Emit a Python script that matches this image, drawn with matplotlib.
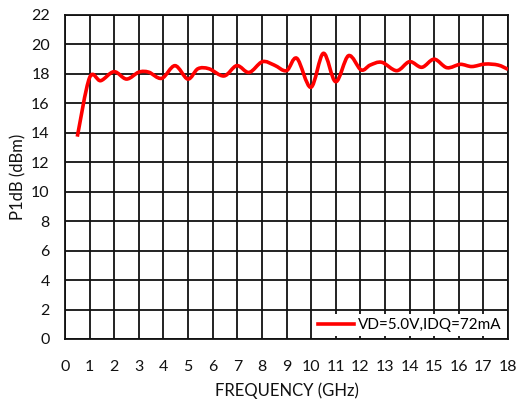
import numpy as np
import matplotlib
matplotlib.use("Agg")
import matplotlib.pyplot as plt
from matplotlib.path import Path
from matplotlib.patches import PathPatch
from matplotlib.lines import Line2D

freq = [0.5, 1.0, 1.45, 1.99, 2.5, 3.0, 3.4, 3.93, 4.47, 4.99, 5.4, 5.85, 6.46, 6.98, 7.48,
        8.02, 8.5, 9.0, 9.42, 9.99, 10.5, 11.0, 11.52, 12.03, 12.4, 12.87, 13.48, 14.0, 14.5,
        15.0, 15.52, 16.06, 16.53, 17.07, 17.6, 18.0]
p1db = [13.74, 17.75, 17.54, 18.15, 17.65, 18.12, 18.12, 17.7, 18.56, 17.65, 18.35, 18.35, 17.86, 18.56, 18.1,
        18.83, 18.6, 18.22, 19.06, 17.09, 19.4, 17.47, 19.24, 18.27, 18.6, 18.79, 18.22, 18.83, 18.45,
        19.0, 18.42, 18.65, 18.5, 18.67, 18.6, 18.31]
legend_label = "VD=5.0V,IDQ=72mA"
xticks = list(range(0, 19))
yticks = list(range(0, 23, 2))

plt.rcParams['font.family'] = ['Lato', 'DejaVu Sans']
fig = plt.figure(figsize=(5.17, 3.99), dpi=100)
ax = fig.add_axes([65/517, 1-339/399, (508-65)/517, (339-15)/399])

# smooth curve (Catmull-Rom -> Bezier), like a spreadsheet "smoothed line"
x = np.array(freq); y = np.array(p1db)
verts = [(x[0], y[0])]; codes = [Path.MOVETO]
t = 1/6
for i in range(len(x)-1):
    x0, y0 = (x[i-1], y[i-1]) if i > 0 else (x[i], y[i])
    x3, y3 = (x[i+2], y[i+2]) if i+2 < len(x) else (x[i+1], y[i+1])
    c1 = (x[i] + (x[i+1]-x0)*t, y[i] + (y[i+1]-y0)*t)
    c2 = (x[i+1] - (x3-x[i])*t, y[i+1] - (y3-y[i])*t)
    verts += [c1, c2, (x[i+1], y[i+1])]
    codes += [Path.CURVE4]*3
ax.add_patch(PathPatch(Path(verts, codes), fill=False, edgecolor='#FF0000', lw=2.6,
                       capstyle='butt', joinstyle='round', zorder=3))

ax.set_xlim(0, 18); ax.set_ylim(0, 22)
ax.set_xticks(xticks); ax.set_yticks(yticks)
ax.grid(True, color='#111111', lw=1.3)
ax.set_axisbelow(True)
for s in ax.spines.values():
    s.set_color('#111111'); s.set_linewidth(1.3)
ax.tick_params(axis='y', length=0, labelsize=11.5, colors='#111111', pad=11)
ax.tick_params(axis='x', length=0, labelsize=11.5, colors='#111111', pad=15)
ax.set_xlabel("FREQUENCY (GHz)", fontsize=12, color='#111111', labelpad=6)
ax.set_ylabel("P1dB (dBm)", fontsize=12, color='#111111', labelpad=3)

h = Line2D([], [], color='#FF0000', lw=2.6)
leg = ax.legend([h], [legend_label], loc='lower right', frameon=True, fancybox=False,
                edgecolor='none', framealpha=1, fontsize=11, handlelength=2.35,
                handletextpad=0.25, borderaxespad=0.2, borderpad=0.25)
leg.get_frame().set_linewidth(0)

fig.savefig("out.png", dpi=100)
